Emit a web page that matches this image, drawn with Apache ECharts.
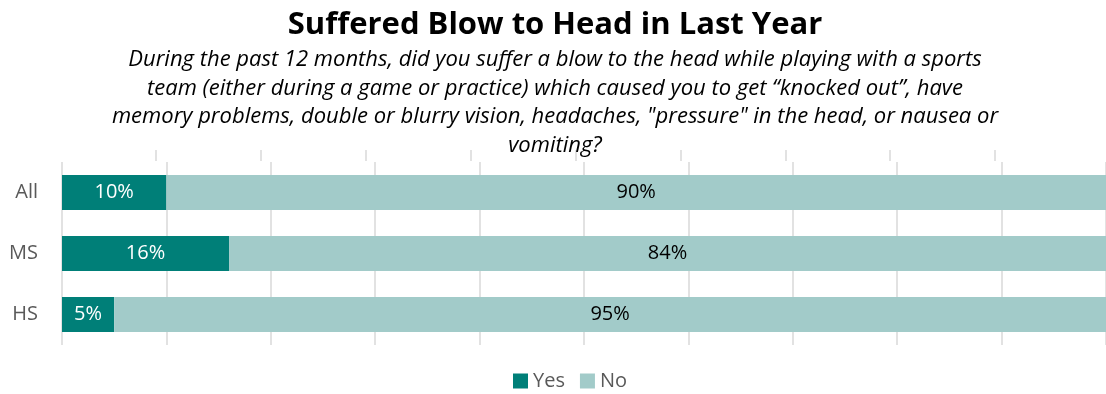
<!DOCTYPE html>
<html>
<head>
<meta charset="utf-8">
<script src="https://cdn.jsdelivr.net/npm/echarts@6/dist/echarts.min.js"></script>
<style>
  html, body { margin: 0; padding: 0; background: #ffffff; }
  #chart { width: 1106px; height: 394px; }
</style>
</head>
<body>
<div id="chart"></div>
<script>
// Survey groups, top to bottom
const categories = ['All', 'MS', 'HS'];
// Share of students answering each way (%)
const yesValues = [10, 16, 5];
const noValues = [90, 84, 95];
const seriesNames = ['Yes', 'No'];

const titleText = 'Suffered Blow to Head in Last Year';
const subtitleLines = [
  'During the past 12 months, did you suffer a blow to the head while playing with a sports',
  'team (either during a game or practice) which caused you to get \u201cknocked out\u201d, have',
  'memory problems, double or blurry vision, headaches, "pressure" in the head, or nausea or',
  'vomiting?'
];

const FONT = '"Open Sans", Lato, sans-serif';
const YES_COLOR = '#007f78';
const NO_COLOR = '#a2cbc9';
const GRID_COLOR = '#d9d9d9';
const TEXT_GREY = '#595959';

const chart = echarts.init(document.getElementById('chart'), null, { renderer: 'canvas' });

chart.setOption({
  backgroundColor: '#ffffff',
  animation: false,
  title: [
    {
      text: titleText,
      left: 550,
      textAlign: 'center',
      top: 5,
      textStyle: { fontFamily: FONT, fontSize: 31, fontWeight: 'bold', color: '#000000' }
    },
    {
      text: subtitleLines.join('\n'),
      left: 550,
      top: 41,
      textAlign: 'center',
      textStyle: {
        fontFamily: FONT, fontSize: 22, fontStyle: 'italic', fontWeight: 'normal',
        color: '#000000', lineHeight: 28.4, align: 'center'
      }
    }
  ],
  legend: {
    data: seriesNames,
    left: 508,
    top: 366,
    itemWidth: 15,
    itemHeight: 15,
    itemGap: 15,
    icon: 'rect',
    textStyle: { fontFamily: FONT, fontSize: 20, color: TEXT_GREY }
  },
  grid: [
    { left: 62, top: 162, width: 1049, height: 183, containLabel: false },
    { left: 51, top: 150, width: 1049, height: 11, containLabel: false }
  ],
  xAxis: [
    {
      gridIndex: 0, type: 'value', min: 0, max: 100, interval: 10,
      axisLine: { show: false }, axisTick: { show: false }, axisLabel: { show: false },
      splitLine: { show: true, lineStyle: { color: GRID_COLOR, width: 1.5 } }
    },
    {
      gridIndex: 1, type: 'value', min: 0, max: 100, interval: 10,
      axisLine: { show: false }, axisTick: { show: false }, axisLabel: { show: false },
      splitLine: { show: true, showMinLine: false, showMaxLine: false, lineStyle: { color: GRID_COLOR, width: 1.5 } }
    }
  ],
  yAxis: [
    {
      gridIndex: 0, type: 'category', data: categories, inverse: true,
      axisLine: { show: false }, axisTick: { show: false },
      axisLabel: { fontFamily: FONT, fontSize: 20, color: TEXT_GREY, margin: 24 }
    },
    {
      gridIndex: 1, type: 'category', data: [''], show: false
    }
  ],
  series: [
    {
      name: seriesNames[0], type: 'bar', stack: 'total', xAxisIndex: 0, yAxisIndex: 0,
      data: yesValues, barWidth: 35,
      itemStyle: { color: YES_COLOR },
      label: { show: true, position: 'inside', formatter: '{c}%', color: '#ffffff', fontFamily: FONT, fontSize: 20 }
    },
    {
      name: seriesNames[1], type: 'bar', stack: 'total', xAxisIndex: 0, yAxisIndex: 0,
      data: noValues, barWidth: 35,
      itemStyle: { color: NO_COLOR },
      label: { show: true, position: 'inside', formatter: '{c}%', color: '#000000', fontFamily: FONT, fontSize: 20 }
    }
  ]
});
</script>
</body>
</html>
